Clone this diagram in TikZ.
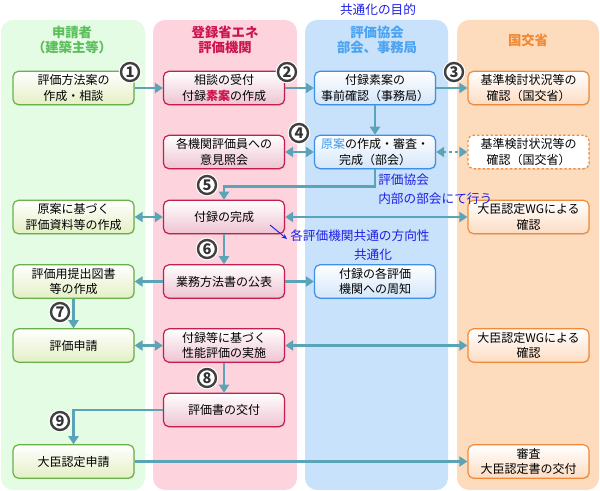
\documentclass[tikz,border=0pt]{standalone}
\usepackage{fontspec}
\setmainfont{Noto Sans CJK JP}
\usetikzlibrary{arrows.meta,shadows,calc}

\definecolor{gpanel}{HTML}{E4FBE4}
\definecolor{ppanel}{HTML}{FDD4DD}
\definecolor{bpanel}{HTML}{C9E2FB}
\definecolor{opanel}{HTML}{FDDCBE}
\definecolor{gline}{HTML}{6AB04C}
\definecolor{gfill}{HTML}{E3F0C4}
\definecolor{pline}{HTML}{C41E4E}
\definecolor{pfill}{HTML}{EEC3D2}
\definecolor{bline}{HTML}{3D8FE8}
\definecolor{bfill}{HTML}{D3E6FA}
\definecolor{oline}{HTML}{F08A3C}
\definecolor{ofill}{HTML}{FDDCC2}
\definecolor{arr}{HTML}{5BA3B6}
\definecolor{note}{HTML}{1E1EE6}
\definecolor{ghead}{HTML}{5CBF5C}
\definecolor{phead}{HTML}{CC1550}
\definecolor{bhead}{HTML}{4BA3F2}
\definecolor{ohead}{HTML}{F08A35}
\definecolor{redtxt}{HTML}{D0104A}
\definecolor{bluetxt}{HTML}{3A9AF0}

\begin{document}
\begin{tikzpicture}[x=0.75pt,y=-0.75pt,
  box/.style={rounded corners=4pt, minimum width=90.75pt, minimum height=25pt,
    inner sep=1pt, align=center, font=\fontsize{9}{11.5}\selectfont, line width=0.9pt,
    drop shadow={opacity=0.18,shadow xshift=0.6pt,shadow yshift=-0.8pt}},
  gbox/.style={box, draw=gline, top color=white, bottom color=gfill},
  pbox/.style={box, draw=pline, top color=white, bottom color=pfill},
  bbox/.style={box, draw=bline, top color=white, bottom color=bfill},
  obox/.style={box, draw=oline, top color=white, bottom color=ofill},
  odash/.style={box, draw=oline, fill=white, dash pattern=on 1.8pt off 1.6pt},
  head/.style={align=center, font=\bfseries\fontsize{10}{11.5}\selectfont},
  notetxt/.style={text=note, font=\fontsize{9.5}{10.5}\selectfont, inner sep=0pt},
  arrow/.style={draw=arr, line width=1.9pt, -{Triangle[length=6pt,width=7.5pt]}},
  darrow/.style={draw=arr, line width=1.9pt, {Triangle[length=6pt,width=7.5pt]}-{Triangle[length=6pt,width=7.5pt]}},
  dotarrow/.style={draw=arr, line width=1.9pt, dash pattern=on 1.9pt off 2.4pt, {Triangle[length=6pt,width=7.5pt]}-{Triangle[length=6pt,width=7.5pt]}},
  circ/.style={circle, draw=black!75, line width=1.8pt, fill=white, inner sep=0pt,
    minimum size=13.5pt, font=\bfseries\fontsize{11}{11}\selectfont, text=black!80,
    preaction={draw=white, line width=3.4pt}}
]
\useasboundingbox (0,0) rectangle (600,491);

% panels
\fill[gpanel, rounded corners=9pt] (1,20) rectangle (145,490);
\fill[ppanel, rounded corners=9pt] (153,20) rectangle (297,490);
\fill[bpanel, rounded corners=9pt] (305,20) rectangle (448,490);
\fill[opanel, rounded corners=9pt] (457,20) rectangle (599,490);

% headers
\node[head, text=ghead] (hg) at (72,40) {申請者\\（建築主等）};
\node[head, text=phead] (hp) at (225,40) {登録省エネ\\評価機関};
\node[head, text=bhead] (hb) at (377,40) {評価協会\\部会、事務局};
\node[head, text=ohead] (ho) at (528,40) {国交省};
\node[notetxt] (goal) at (378,10) {共通化の目的};

% row 1
\node[gbox] (g1) at (73.5,88) {評価方法案の\\作成・相談};
\node[pbox] (p1) at (224,88) {相談の受付\\付録{\color{redtxt}\bfseries 素案}の作成};
\node[bbox] (b1) at (375,88) {付録素案の\\事前確認（事務局）};
\node[obox] (o1) at (528.5,88) {基準検討状況等の\\確認（国交省）};

% row 2
\node[pbox] (p2) at (224,152) {各機関評価員への\\意見照会};
\node[bbox] (b2) at (375,152) {{\color{bluetxt}原案}の作成・審査・\\完成（部会）};
\node[odash] (o2) at (528.5,152) {基準検討状況等の\\確認（国交省）};

% row 3
\node[gbox] (g3) at (73.5,217) {原案に基づく\\評価資料等の作成};
\node[pbox] (p3) at (224,217) {付録の完成};
\node[obox] (o3) at (528.5,217) {大臣認定WGによる\\確認};

% row 4
\node[gbox] (g4) at (73.5,281.5) {評価用提出図書\\等の作成};
\node[pbox] (p4) at (224,281.5) {業務方法書の公表};
\node[bbox] (b4) at (375,281.5) {付録の各評価\\機関への周知};

% row 5
\node[gbox] (g5) at (73.5,345.5) {評価申請};
\node[pbox] (p5) at (224,345.5) {付録等に基づく\\性能評価の実施};
\node[obox] (o5) at (528.5,345.5) {大臣認定WGによる\\確認};

% row 6
\node[pbox] (p6) at (224,410) {評価書の交付};

% row 7
\node[gbox] (g7) at (73.5,461.5) {大臣認定申請};
\node[obox] (o7) at (528.5,461.5) {審査\\大臣認定書の交付};

% notes
\node[notetxt, align=left, anchor=north west, font=\fontsize{9.5}{14}\selectfont] (n1) at (378,174) {評価協会\\内部の部会にて行う};
\node[notetxt, anchor=west] (n2) at (290,236) {各評価機関共通の方向性};
\node[notetxt] (n3) at (373,255) {共通化};
\coordinate (n2s) at (270,225);
\draw[note, line width=0.7pt, -{Stealth[length=4pt,width=3.5pt]}] (n2s) -- ($(n2.west)+(-3,3)$);

% connectors
\draw[arrow] (g1.east) -- (p1.west);
\draw[arrow] (p1.east) -- (b1.west);
\draw[arrow] (b1.east) -- (o1.west);
\draw[arrow] (b1.south) -- (b2.north);
\draw[darrow] (p2.east) -- (b2.west);
\draw[dotarrow] (b2.east) -- (o2.west);
\draw[arrow] (b2.south) -- ++(0,17) -| (p3.north);
\draw[darrow] (g3.east) -- (p3.west);
\draw[darrow] (p3.east) -- (o3.west);
\draw[arrow] (p3.south) -- (p4.north);
\draw[arrow] (p4.west) -- (g4.east);
\draw[arrow] (p4.east) -- (b4.west);
\draw[arrow] (g4.south) -- (g5.north);
\draw[darrow] (g5.east) -- (p5.west);
\draw[darrow] (p5.east) -- (o5.west);
\draw[arrow] (p5.south) -- (p6.north);
\draw[arrow] (p6.west) -| (g7.north);
\draw[arrow] (g7.east) -- (o7.west);

% step numbers
\node[circ] (c1) at (130,72) {1};
\node[circ] (c2) at (287,72) {2};
\node[circ] (c3) at (454,72) {3};
\node[circ] (c4) at (299,133) {4};
\node[circ] (c5) at (207,185) {5};
\node[circ] (c6) at (207,249) {6};
\node[circ] (c7) at (60,312) {7};
\node[circ] (c8) at (207,378) {8};
\node[circ] (c9) at (60,421) {9};
\end{tikzpicture}
\end{document}
